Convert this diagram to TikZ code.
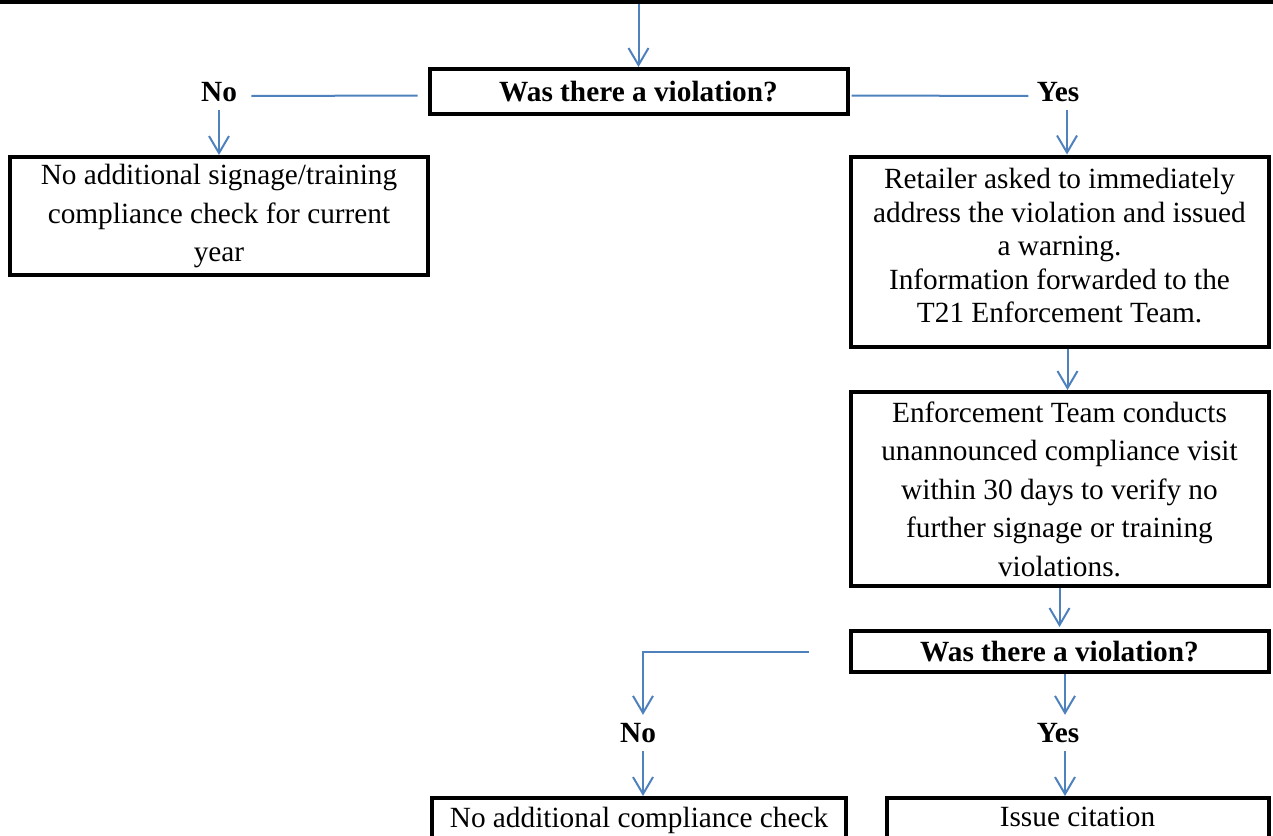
\documentclass[tikz,border=0pt]{standalone}
\usepackage{fontspec}
\setmainfont{Liberation Serif}
\usetikzlibrary{arrows.meta,positioning,calc}
\definecolor{linkblue}{HTML}{4F81BD}

\begin{document}
\begin{tikzpicture}[
  x=0.5pt, y=-0.5pt,
  font=\fontsize{14.65}{19.25}\selectfont,
  box/.style={draw=black, rectangle, line width=2pt, minimum width=209pt, align=center, inner sep=3pt},
  answer/.style={font=\fontsize{14.65}{19.25}\selectfont\bfseries, inner sep=4pt},
  arrow/.style={-{Straight Barb[length=8.5pt, width=10pt]}, draw=linkblue, line width=1pt},
  link/.style={draw=linkblue, line width=1pt},
]
  \useasboundingbox (0,0) rectangle (1273,835);

  % box above, only its lower edge shows
  \node[box, minimum width=660pt, minimum height=61.5pt] (prev) at (639,-60) {};

  \node[box, minimum height=22.5pt, font=\fontsize{14.65}{19.25}\selectfont\bfseries] (ask) at (638.5,91.5) {Was there a violation?};
  \node[answer] (no) at (219,92) {No};
  \node[answer] (yes) at (1058,92) {Yes};

  \node[box, minimum height=59pt] (nosign) at (219,216) {No additional signage/training\\compliance check for current\\year};
  \node[box, minimum height=95pt, font=\fontsize{14.65}{16.75}\selectfont, text depth=6pt] (warn) at (1059.5,251.5) {Retailer asked to immediately\\address the violation and issued\\a warning.\\Information forwarded to the\\T21 Enforcement Team.};
  \node[box, minimum height=97pt] (visit) at (1059.5,489) {Enforcement Team conducts\\unannounced compliance visit\\within 30 days to verify no\\further signage or training\\violations.};

  \node[box, minimum height=20.5pt, font=\fontsize{14.65}{19.25}\selectfont\bfseries] (ask2) at (1059.5,651.5) {Was there a violation?};
  \node[answer] (no2) at (638,733) {No};
  \node[answer] (yes2) at (1058,733) {Yes};

  % bottom boxes run past the lower edge
  \node[box, anchor=north, minimum width=207pt, inner ysep=4.5pt, text depth=40pt] (nocheck) at (639,796) {No additional compliance check};
  \node[box, anchor=north, minimum width=191pt, inner ysep=4.5pt, text depth=40pt] (cite) at (1077.5,796) {Issue citation};

  \draw[arrow] (ask.north |- prev.south) -- (ask.north);
  \draw[link] ([xshift=-5pt,yshift=-2pt]ask.west) -- ([xshift=3pt,yshift=-2pt]no.east);
  \draw[link] ([xshift=1pt,yshift=-2pt]ask.east) -- ([yshift=-2pt]yes.west);
  \draw[arrow] (no.south) -- (nosign.north);
  \draw[arrow] ([xshift=4.5pt]yes.south) -- ([xshift=4.5pt]yes.south |- warn.north);
  \draw[arrow] ([xshift=4pt]warn.south) -- ([xshift=4pt]visit.north);
  \draw[arrow] (visit.south) -- ([yshift=1pt]ask2.north);

  \draw[arrow] ([xshift=-20pt]ask2.west) -| ([xshift=2.5pt]no2.north);
  \draw[arrow] ([xshift=3.5pt]yes2.north |- ask2.south) -- ([xshift=3.5pt]yes2.north);
  \draw[arrow] ([xshift=2.5pt]no2.south) -- ([xshift=2.5pt]no2.south |- nocheck.north);
  \draw[arrow] ([xshift=3.5pt]yes2.south) -- ([xshift=3.5pt]yes2.south |- cite.north);
\end{tikzpicture}
\end{document}
